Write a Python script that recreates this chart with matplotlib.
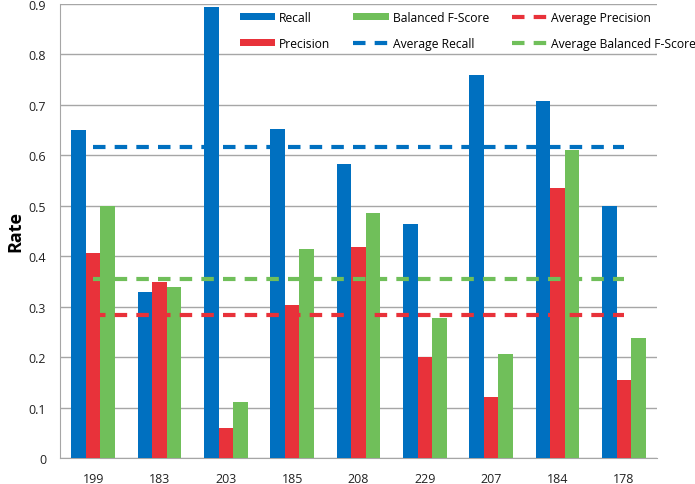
import numpy as np
import matplotlib
matplotlib.use("Agg")
from matplotlib import pyplot as plt

# Daten
kategorien = ['199', '183', '203', '185', '208', '229', '207', '184', '178']
recall = [0.651, 0.330, 0.895, 0.652, 0.582, 0.464, 0.760, 0.708, 0.499]
precision = [0.407, 0.348, 0.060, 0.304, 0.418, 0.200, 0.120, 0.536, 0.155]
fscore = [0.500, 0.338, 0.112, 0.415, 0.486, 0.278, 0.207, 0.610, 0.237]
avg_recall = 0.616
avg_precision = 0.283
avg_fscore = 0.355

blau = '#0070C0'
rot = '#E8323A'
gruen = '#70BF5A'

plt.rcParams['font.family'] = ['Open Sans', 'DejaVu Sans']

fig = plt.figure(figsize=(6.95, 4.85), dpi=100)
ax = fig.add_axes([60/695, 1-459/485, (657-60)/695, (459-5)/485])

x = np.arange(len(kategorien))
w = 0.22
b1 = ax.bar(x - w, recall, w, color=blau, label='Recall', zorder=3)
b2 = ax.bar(x, precision, w, color=rot, label='Precision', zorder=3)
b3 = ax.bar(x + w, fscore, w, color=gruen, label='Balanced F-Score', zorder=3)

l1, = ax.plot([x[0], x[-1]], [avg_recall]*2, color=blau, lw=3, dashes=(3, 2.2), label='Average Recall', zorder=4)
l2, = ax.plot([x[0], x[-1]], [avg_precision]*2, color=rot, lw=3, dashes=(3, 2.2), label='Average Precision', zorder=4)
l3, = ax.plot([x[0], x[-1]], [avg_fscore]*2, color=gruen, lw=3, dashes=(3, 2.2), label='Average Balanced F-Score', zorder=4)

ax.set_xlim(-0.5, len(kategorien) - 0.5)
ax.set_ylim(0, 0.9)
ax.set_yticks(np.arange(0, 0.91, 0.1))
ax.set_yticklabels(['0'] + ['%.1f' % v for v in np.arange(0.1, 0.91, 0.1)])
ax.set_xticks(x)
ax.set_xticklabels(kategorien)
ax.tick_params(length=0, labelsize=9, colors='#222222', pad=10)
ax.tick_params(axis='x', pad=10)
ax.yaxis.grid(True, color='#A6A6A6', lw=1, zorder=0)
for s in ['top', 'right']:
    ax.spines[s].set_visible(False)
for s in ['left', 'bottom']:
    ax.spines[s].set_color('#A6A6A6')
ax.set_ylabel('Rate', fontsize=13, fontweight='bold')
ax.yaxis.set_label_coords(-0.06, 0.5)

# Legende: Spaltenweise Recall/Precision | F-Score/Avg Recall | Avg Precision/Avg F-Score
handles = [b1, b2, b3, l1, l2, l3]
leg = fig.legend(handles, [h.get_label() for h in handles], ncol=3,
                 loc='upper left', bbox_to_anchor=(240/695, 1 - 12/485),
                 frameon=False, fontsize=8.7, handlelength=2.9, handleheight=0.55,
                 columnspacing=1.9, labelspacing=1.05, handletextpad=0.35,
                 borderpad=0, borderaxespad=0)

fig.savefig('out.png', dpi=100)
